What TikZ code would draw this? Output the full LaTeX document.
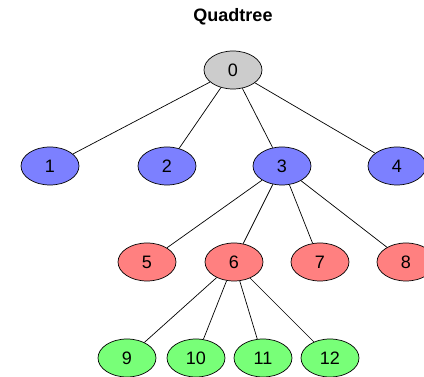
\documentclass[tikz,border=0pt]{standalone}
\usepackage{fontspec}
\setmainfont{Liberation Sans}
\usepackage{xcolor}
\usetikzlibrary{shapes.geometric}
\definecolor{rootgray}{RGB}{204,204,204}
\definecolor{levelblue}{RGB}{124,128,255}
\definecolor{levelred}{RGB}{255,128,128}
\definecolor{levelgreen}{RGB}{120,255,120}
\tikzset{
	qnode/.style={ellipse,draw=black,line width=0.7pt,minimum width=58pt,minimum height=38pt,inner sep=0pt,font=\fontsize{18}{20}\selectfont},
	qedge/.style={line width=0.7pt}
}

\begin{document}
\begin{tikzpicture}[x=1pt,y=-1pt]
	
	\useasboundingbox (0,0) rectangle (424,377);
	
	\node [font=\bfseries\fontsize{18}{20}\selectfont] (title) at (233,17) {Quadtree};
	
	% root
	\node [qnode,fill=rootgray] (n0) at (233,70) {0};
	
	% first level
	\node [qnode,fill=levelblue] (n1) at (50,166) {1};
	\node [qnode,fill=levelblue] (n2) at (167,166) {2};
	\node [qnode,fill=levelblue] (n3) at (282,166) {3};
	\node [qnode,fill=levelblue] (n4) at (397,166) {4};
	
	% second level
	\node [qnode,fill=levelred] (n5) at (147,262) {5};
	\node [qnode,fill=levelred] (n6) at (234,262) {6};
	\node [qnode,fill=levelred] (n7) at (320,262) {7};
	\node [qnode,fill=levelred] (n8) at (406,262) {8};
	
	% third level
	\node [qnode,fill=levelgreen] (n9) at (127,358) {9};
	\node [qnode,fill=levelgreen] (n10) at (196,358) {10};
	\node [qnode,fill=levelgreen] (n11) at (263,358) {11};
	\node [qnode,fill=levelgreen] (n12) at (330,358) {12};
	
	\foreach \a/\b in {n0/n1,n0/n2,n0/n3,n0/n4,n3/n5,n3/n6,n3/n7,n3/n8,n6/n9,n6/n10,n6/n11,n6/n12}
		\draw[qedge] (\a) -- (\b);
	
\end{tikzpicture}
\end{document}
